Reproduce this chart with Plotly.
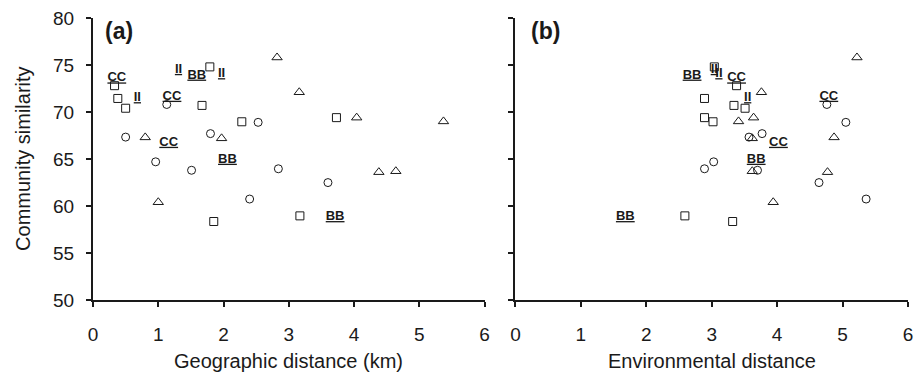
import plotly.graph_objects as go

# ---- data ----
sq_y = [72.8, 71.44, 70.4, 74.8, 70.7, 68.96, 69.4, 58.35, 58.95]
sq_geo = [0.33, 0.38, 0.50, 1.79, 1.67, 2.28, 3.73, 1.85, 3.17]
sq_env = [3.38, 2.89, 3.51, 3.04, 3.34, 3.02, 2.89, 3.32, 2.59]

ci_y = [67.33, 70.8, 67.7, 68.9, 64.7, 63.8, 63.96, 60.74, 62.49]
ci_geo = [0.50, 1.13, 1.80, 2.53, 0.96, 1.51, 2.84, 2.40, 3.60]
ci_env = [3.57, 4.76, 3.77, 5.05, 3.03, 3.70, 2.89, 5.36, 4.64]

tr_y = [75.8, 72.1, 67.3, 67.2, 69.4, 69.0, 60.4, 63.6, 63.7]
tr_geo = [2.82, 3.16, 0.80, 1.97, 4.04, 5.37, 1.00, 4.38, 4.64]
tr_env = [5.22, 3.76, 4.87, 3.62, 3.64, 3.41, 3.94, 4.77, 3.62]

lab_text = ["CC", "II", "II", "BB", "II", "CC", "CC", "BB", "BB"]
lab_y = [73.6, 71.5, 74.5, 73.9, 74.05, 71.65, 66.75, 64.95, 58.85]
lab_geo = [0.365, 0.68, 1.31, 1.59, 1.97, 1.21, 1.16, 2.06, 3.71]
lab_env = [3.38, 3.55, 3.04, 2.70, 3.11, 4.79, 4.02, 3.68, 1.68]

x_ticks = [0, 1, 2, 3, 4, 5, 6]
y_ticks = [50, 55, 60, 65, 70, 75, 80]

FONT = "Liberation Sans, Arial, sans-serif"
INK = "#1a1a1a"

fig = go.Figure()

def add_panel(xs_sq, xs_ci, xs_tr, xs_lab, xa, ya):
    mk = dict(color=INK, size=8, line=dict(width=1, color=INK))
    fig.add_trace(go.Scatter(x=xs_sq, y=sq_y, mode="markers", xaxis=xa, yaxis=ya,
                             marker=dict(symbol="square-open", **mk), showlegend=False))
    fig.add_trace(go.Scatter(x=xs_ci, y=ci_y, mode="markers", xaxis=xa, yaxis=ya,
                             marker=dict(symbol="circle-open", **mk), showlegend=False))
    fig.add_trace(go.Scatter(x=xs_tr, y=tr_y, mode="markers", xaxis=xa, yaxis=ya,
                             marker=dict(symbol="triangle-up-open", color=INK, size=9,
                                         line=dict(width=1, color=INK)), showlegend=False))
    fig.add_trace(go.Scatter(x=xs_lab, y=lab_y, mode="text", xaxis=xa, yaxis=ya,
                             text=["<b><u>%s</u></b>" % t for t in lab_text],
                             textposition="middle center",
                             textfont=dict(family=FONT, size=13, color=INK),
                             showlegend=False))

add_panel(sq_geo, ci_geo, tr_geo, lab_geo, "x", "y")
add_panel(sq_env, ci_env, tr_env, lab_env, "x2", "y2")

axis_common = dict(showline=True, linewidth=2, linecolor=INK, ticks="outside",
                   ticklen=5, tickwidth=1.5, tickcolor=INK, showgrid=False,
                   zeroline=False, ticklabeloverflow="allow",
                   tickfont=dict(family=FONT, size=19, color=INK))

fig.update_layout(
    width=921, height=390,
    margin=dict(l=93, r=8, t=15.5, b=90),
    paper_bgcolor="white", plot_bgcolor="white",
    hovermode=False,
    xaxis=dict(domain=[0, 0.4805], range=[0, 6], tickvals=x_ticks,
               ticklabelstandoff=11, anchor="y", **axis_common),
    xaxis2=dict(domain=[0.5183, 1], range=[0, 6], tickvals=x_ticks,
                ticklabelstandoff=11, anchor="y2", **axis_common),
    yaxis=dict(range=[50, 80], tickvals=y_ticks, anchor="x",
               ticklabelstandoff=8, **axis_common),
    yaxis2=dict(range=[50, 80], tickvals=y_ticks, anchor="x2",
                showticklabels=False, **axis_common),
    annotations=[
        dict(text="Community similarity", xref="paper", yref="paper", x=-0.086, y=0.5,
             textangle=-90, showarrow=False, font=dict(family=FONT, size=20, color=INK),
             xanchor="center", yanchor="middle"),
        dict(text="Geographic distance (km)", xref="paper", yref="paper", x=0.2403, y=-0.218,
             showarrow=False, font=dict(family=FONT, size=20, color=INK),
             xanchor="center", yanchor="middle"),
        dict(text="Environmental distance", xref="paper", yref="paper", x=0.7592, y=-0.218,
             showarrow=False, font=dict(family=FONT, size=20, color=INK),
             xanchor="center", yanchor="middle"),
        dict(text="<b>(a)</b>", xref="paper", yref="paper", x=0.0127, y=0.955,
             showarrow=False, font=dict(family=FONT, size=23, color=INK),
             xanchor="left", yanchor="middle"),
        dict(text="<b>(b)</b>", xref="paper", yref="paper", x=0.5344, y=0.955,
             showarrow=False, font=dict(family=FONT, size=23, color=INK),
             xanchor="left", yanchor="middle"),
    ],
)

# remove the browser's default 8px body margin so the figure fills the window exactly
fig.write_html("out.html", config={"displayModeBar": False},
               post_script="document.body.style.margin='0';document.body.style.overflow='hidden';")
